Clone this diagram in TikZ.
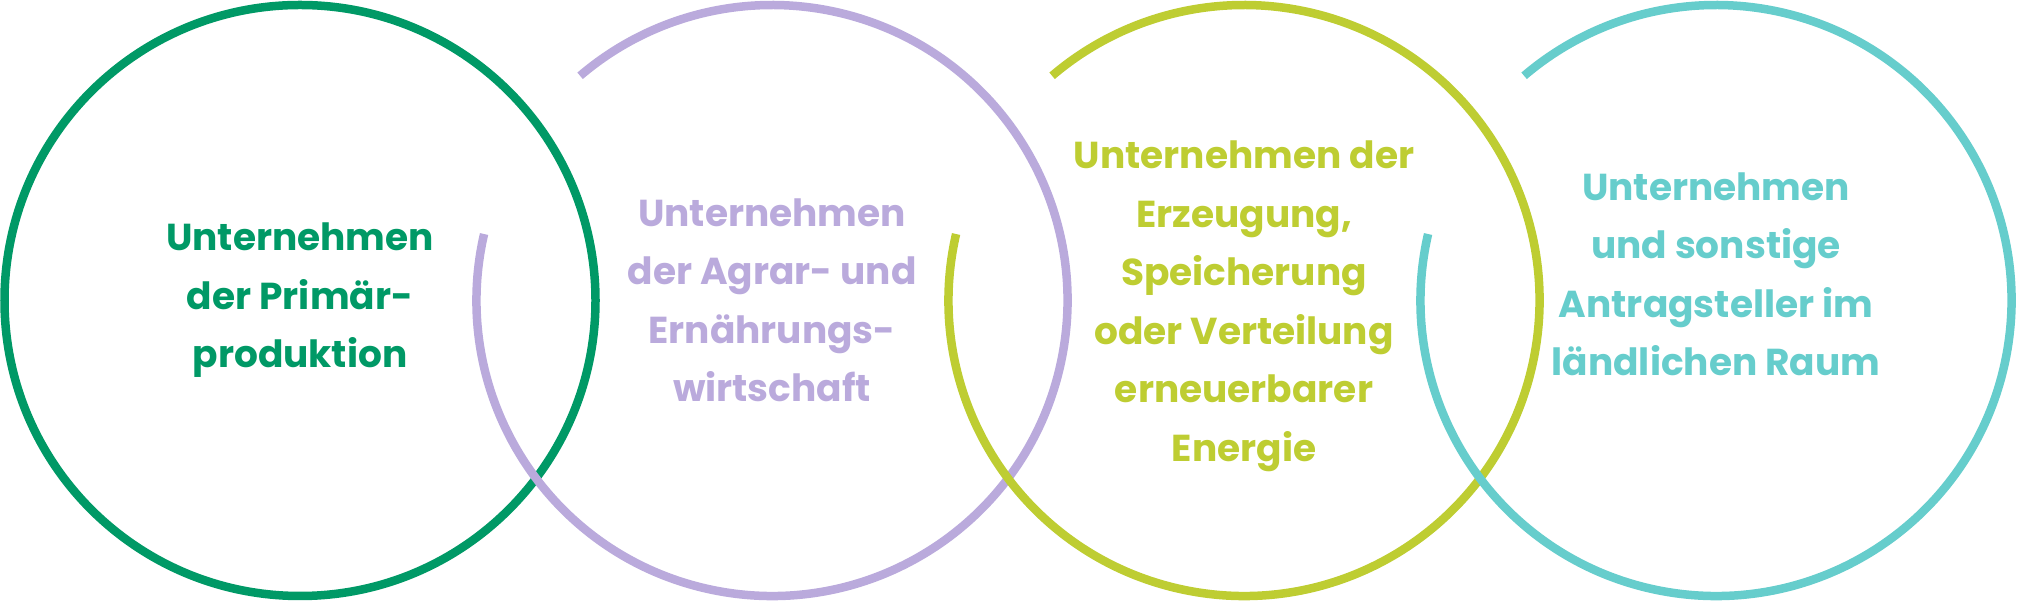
\documentclass[tikz,border=0pt]{standalone}
\usepackage{fontspec}
\setmainfont{Poppins}
\usetikzlibrary{positioning}

\definecolor{primgreen}{RGB}{0,153,102}
\definecolor{agrarlila}{RGB}{186,170,220}
\definecolor{energielime}{RGB}{190,205,50}
\definecolor{raumteal}{RGB}{102,205,204}

\begin{document}
\begin{tikzpicture}[x=1pt, y=1pt, node distance=472pt, on grid,
    ring/.style={line width=8.5pt},
    label/.style={align=center, font=\fontsize{37.5}{58.5}\selectfont\bfseries}]
    \useasboundingbox (0,0) rectangle (2017,601);

    % Centres
    \coordinate (C1) at (300,300.5);
    \coordinate[right=of C1] (C2);
    \coordinate[right=of C2] (C3);
    \coordinate[right=of C3] (C4);

    % Texts
    \node[label, text=primgreen] (T1) at (C1) {Unternehmen\\der Primär-\\produktion};
    \node[label, text=agrarlila] (T2) at (C2) {Unternehmen\\der Agrar- und\\Ernährungs-\\wirtschaft};
    \node[label, text=energielime] (T3) at ([yshift=-6pt]C3) {Unternehmen der\\Erzeugung,\\Speicherung\\oder Verteilung\\erneuerbarer\\Energie};
    \node[label, text=raumteal] (T4) at ([yshift=26pt]C4) {Unternehmen\\und sonstige\\Antragsteller im\\ländlichen Raum};

    % Circles
    \draw[ring, primgreen] (C1) circle[radius=295.5];
    \draw[ring, agrarlila] (C2) ++(167:295.5) arc[start angle=167, end angle=490.5, radius=295.5];
    \draw[ring, energielime] (C3) ++(167:295.5) arc[start angle=167, end angle=490.5, radius=295.5];
    \draw[ring, raumteal] (C4) ++(167:295.5) arc[start angle=167, end angle=490.5, radius=295.5];
\end{tikzpicture}
\end{document}
